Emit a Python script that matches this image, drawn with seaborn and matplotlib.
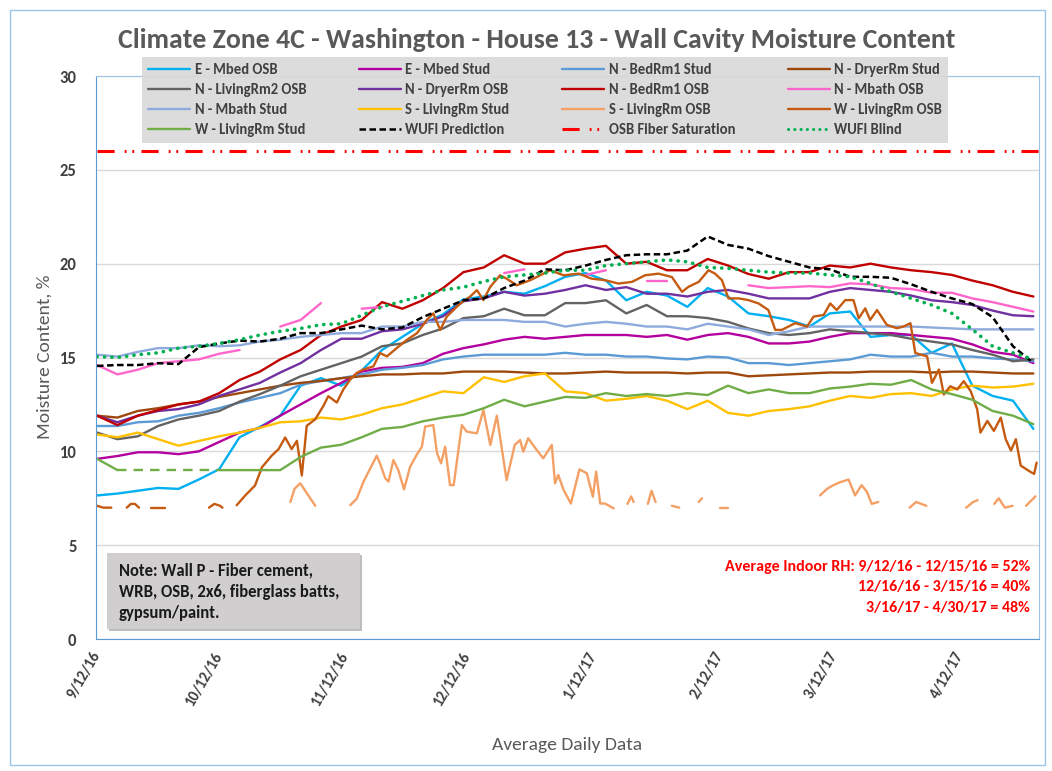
import numpy as np
import pandas as pd
import seaborn as sns
import matplotlib.pyplot as plt
from matplotlib.lines import Line2D
from matplotlib.patches import Rectangle
from matplotlib import font_manager

sns.set_style('white')
installed = {f.name for f in font_manager.fontManager.ttflist}
FONT = next(f for f in ['Carlito', 'Liberation Sans Narrow', 'Roboto Condensed', 'Liberation Sans']
            if f in installed)
plt.rcParams['font.family'] = [FONT, 'DejaVu Sans']

START = pd.Timestamp('2016-09-12')

# common 5-day grid (days since 9/12/16)
days = list(range(0, 231, 5))

e_mbed_osb = [7.65, 7.75, 7.9, 8.05, 8.0, 8.5, 9.05, 10.75, 11.3, 11.9, 13.5, 13.9,
              13.5, 14.3, 15.4, 16.1, 16.8, 17.3, 18.1, 18.25, 18.5, 18.4, 18.8, 19.3,
              19.5, 19.1, 18.05, 18.5, 18.3, 17.7, 18.7, 18.25, 17.35, 17.2, 17.0,
              16.65, 17.35, 17.45, 16.1, 16.2, 16.2, 15.25, 15.75, 13.5, 12.95, 12.7, 11.2]
e_mbed_stud = [9.6, 9.75, 9.95, 9.95, 9.85, 10.0, 10.5, 11.0, 11.25, 11.9, 12.5, 13.1,
               13.65, 14.25, 14.45, 14.5, 14.7, 15.2, 15.5, 15.7, 15.95, 16.1, 16.0, 16.1,
               16.2, 16.2, 16.2, 16.1, 16.2, 15.95, 16.2, 16.3, 16.1, 15.75, 15.75,
               15.85, 16.1, 16.3, 16.3, 16.3, 16.2, 16.1, 16.0, 15.7, 15.3, 15.15, 14.7]
n_bed1_stud = [11.35, 11.35, 11.55, 11.6, 11.9, 12.05, 12.3, 12.6, 12.85, 13.1, 13.55, 13.75,
               13.9, 14.1, 14.35, 14.45, 14.6, 14.9, 15.05, 15.15, 15.15, 15.15, 15.15, 15.25,
               15.15, 15.15, 15.05, 15.05, 14.95, 14.9, 15.05, 15.0, 14.7, 14.7, 14.6,
               14.7, 14.8, 14.9, 15.15, 15.05, 15.05, 15.25, 15.05, 15.05, 14.95, 14.9, 14.8]
n_dryer_stud = [11.9, 11.8, 12.15, 12.3, 12.5, 12.65, 12.9, 13.1, 13.3, 13.5, 13.65, 13.75,
                13.9, 14.0, 14.1, 14.1, 14.15, 14.15, 14.25, 14.25, 14.25, 14.2, 14.15, 14.15,
                14.2, 14.25, 14.2, 14.2, 14.2, 14.15, 14.2, 14.2, 14.0, 14.05, 14.1,
                14.15, 14.2, 14.2, 14.25, 14.25, 14.25, 14.2, 14.25, 14.25, 14.2, 14.15, 14.15]
n_living2_osb = [11.0, 10.65, 10.8, 11.35, 11.7, 11.9, 12.15, 12.65, 13.05, 13.5, 14.0, 14.35,
                 14.7, 15.05, 15.6, 15.75, 16.2, 16.55, 17.1, 17.2, 17.6, 17.25, 17.25, 17.9,
                 17.9, 18.05, 17.35, 17.8, 17.2, 17.2, 17.1, 16.9, 16.55, 16.3, 16.2,
                 16.3, 16.5, 16.4, 16.3, 16.2, 16.0, 15.85, 15.7, 15.4, 15.15, 14.8, 14.9]
n_dryer_osb = [11.9, 11.55, 11.9, 12.15, 12.25, 12.5, 12.95, 13.3, 13.65, 14.2, 14.7, 15.4,
               16.0, 16.0, 16.4, 16.5, 16.8, 17.2, 18.0, 18.15, 18.5, 18.3, 18.4, 18.6,
               18.85, 18.6, 18.75, 18.4, 18.4, 18.25, 18.5, 18.6, 18.4, 18.15, 18.15,
               18.15, 18.5, 18.7, 18.6, 18.5, 18.3, 18.05, 17.95, 17.8, 17.5, 17.25, 17.2]
n_bed1_osb = [11.9, 11.4, 11.9, 12.2, 12.5, 12.65, 13.1, 13.8, 14.25, 14.9, 15.4, 16.2,
              16.65, 17.0, 17.95, 17.6, 18.05, 18.7, 19.55, 19.8, 20.45, 20.0, 20.0, 20.6,
              20.8, 20.95, 20.0, 20.1, 19.65, 19.65, 20.25, 19.9, 19.45, 19.2, 19.55,
              19.55, 19.9, 19.8, 20.0, 19.8, 19.65, 19.55, 19.4, 19.1, 18.85, 18.5, 18.25]
n_mbath_osb = [14.6, 14.1, 14.35, 14.7, 14.8, 14.9, 15.2, 15.4, np.nan, 16.65, 17.0, 17.9,
               np.nan, 17.6, 17.7, np.nan, np.nan, np.nan, np.nan, np.nan, 19.5, 19.7, np.nan, np.nan,
               19.4, 19.65, np.nan, 19.1, 19.1, np.nan, 18.6, np.nan, 18.85, 18.7, 18.75,
               18.8, 18.75, 18.95, 18.9, 18.7, 18.65, 18.45, 18.45, 18.15, 17.95, 17.7, 17.45]
n_mbath_stud = [15.15, 15.05, 15.3, 15.5, 15.5, 15.65, 15.6, 15.65, 15.85, 15.95, 16.1, 16.2,
                16.3, 16.3, 16.65, 16.65, 16.9, 16.9, 17.0, 17.0, 17.0, 16.9, 16.9, 16.65,
                16.8, 16.9, 16.8, 16.65, 16.65, 16.5, 16.8, 16.65, 16.5, 16.2, 16.4,
                16.65, 16.65, 16.65, 16.65, 16.65, 16.65, 16.6, 16.55, 16.5, 16.5, 16.5, 16.5]
s_living_stud = [10.9, 10.75, 11.0, 10.65, 10.3, 10.55, 10.8, 11.0, 11.25, 11.55, 11.6, 11.8,
                 11.7, 11.95, 12.3, 12.5, 12.85, 13.2, 13.1, 13.95, 13.7, 14.0, 14.15, 13.2,
                 13.1, 12.7, 12.8, 12.95, 12.7, 12.25, 12.7, 12.05, 11.9, 12.15, 12.25,
                 12.4, 12.7, 12.95, 12.85, 13.05, 13.1, 12.95, 13.3, 13.5, 13.4, 13.45, 13.6]
w_living_stud = [9.6, 9.0, np.nan, np.nan, np.nan, np.nan, 9.0, 9.0, 9.0, 9.0, 9.7, 10.2,
                 10.35, 10.75, 11.2, 11.3, 11.6, 11.8, 11.95, 12.3, 12.75, 12.4, 12.65, 12.9,
                 12.85, 13.1, 12.95, 13.05, 12.95, 13.1, 13.0, 13.5, 13.1, 13.3, 13.1,
                 13.1, 13.35, 13.45, 13.6, 13.55, 13.8, 13.3, 13.05, 12.75, 12.15, 11.9, 11.45]
# stretch of the W - LivingRm Stud sensor sitting on its floor value
w_stud_floor_days = [5, 30]
w_stud_floor_vals = [9.0, 9.0]
wufi_prediction = [14.55, 14.6, 14.6, 14.7, 14.65, 15.55, 15.75, 15.9, 15.85, 16.0, 16.3, 16.3,
                   16.5, 16.7, 16.5, 16.6, 17.15, 17.6, 18.05, 18.15, 18.7, 19.1, 19.7, 19.65,
                   19.9, 20.2, 20.45, 20.5, 20.5, 20.7, 21.45, 21.0, 20.8, 20.4, 20.1,
                   19.8, 19.7, 19.3, 19.3, 19.25, 18.9, 18.5, 18.15, 17.85, 17.15, 15.6, 14.7]
wufi_blind = [15.05, 15.0, 15.15, 15.25, 15.5, 15.6, 15.75, 15.95, 16.2, 16.4, 16.55, 16.75,
              16.8, 17.25, 17.7, 18.0, 18.3, 18.6, 18.75, 19.05, 19.3, 19.4, 19.5, 19.65,
              19.65, 19.9, 20.0, 20.1, 20.2, 20.1, 19.8, 19.75, 19.65, 19.55, 19.5,
              19.5, 19.4, 19.3, 18.95, 18.5, 18.15, 17.8, 17.35, 16.5, 15.6, 15.25, 14.9]
osb_fiber_saturation = 26.0

# noisier sensors read at their own dates
s_osb_days = [47.5, 48.5, 49.9, 51.9, 53.6, 56,
              62.2, 63.8, 65.4, 68.7, 69.5, 70.8, 71.6, 72.8, 74.0, 75.4, 76.9, 78.5, 79.8, 80.6,
              82.6, 83.5, 84.5, 85.5, 86.7, 87.6, 89.6, 90.8, 93.3, 94.9, 96.6, 98.2, 100.6, 102.6,
              103.9, 104.7, 105.9, 108.0, 109.6, 111.7, 112.5, 113.3, 114.6, 116.4, 118.5, 120.3,
              121.8, 122.6, 123.6, 124.8, 126.9, 128,
              130.3, 131.2, 131.8, 133, 135.3, 136.2, 137.2, 139, 141.2, 143.0, 145, 147.8, 148.6, 150,
              153.0, 155.0, 160,
              177.6, 179.3, 180.9, 182.5, 184.6, 186.2, 187.8, 189.1, 190.3, 191.9, 194,
              199.6, 201.2, 203.7, 206, 213.5, 215.2, 216.3, 218, 220.4, 221.5, 223.0, 224.9, 226,
              228.2, 230.5]
s_osb_vals = [7.3, 8.0, 8.3, 7.65, 7.1, np.nan,
              7.13, 7.48, 8.36, 9.77, 9.36, 8.56, 8.39, 9.54, 9.0, 7.97, 9.18, 9.81, 10.25, 11.32,
              11.4, 9.9, 9.36, 10.25, 8.2, 8.2, 11.4, 11.05, 10.96, 12.2, 10.34, 11.9, 8.47, 10.34,
              10.6, 9.98, 10.7, 10.07, 9.63, 10.34, 8.3, 8.74, 7.94, 7.22, 9.04, 8.83,
              7.58, 8.92, 7.22, 7.22, 6.96, np.nan,
              7.2, 7.6, 7.3, np.nan, 7.2, 7.9, 7.3, np.nan, 7.1, 7.0, np.nan, 7.3, 7.5, np.nan,
              7.0, 7.0, np.nan,
              7.65, 8.0, 8.2, 8.35, 8.5, 7.65, 8.2, 7.85, 7.2, 7.3, np.nan,
              7.0, 7.3, 7.1, np.nan, 7.0, 7.3, 7.4, np.nan, 7.2, 7.5, 7.0, 7.1, np.nan,
              7.1, 7.6]

w_osb_days = [0, 1.5, 3.5, 5, 7.3, 8.3, 9.3, 10.3, 11.5, 13.2, 16.8, 20, 27.5, 28.8, 30.2, 30.8, 32,
              34.3, 36.4, 38.8, 40.5, 42.9, 44.6, 46.2, 47.8, 49.1, 50.3, 51.5, 53.6, 55.6, 56.8,
              58.9, 60.5, 62.2, 63.8, 65.4, 67.9, 69.5, 71.2, 73.6, 76.1, 78.6, 81.0, 82.6, 84.3,
              85.9, 89.2, 91.6, 93.3, 94.9, 96.6, 99.0, 100.6, 103.1, 106.4, 108.0, 111.3, 114.6,
              118.3, 121.5, 124.8, 128.1, 131.4, 134.6, 137.9, 141.2, 143.7, 145.3, 147.8, 150.2,
              151.8, 153.5, 155.1, 157.6, 160.0, 162.5, 164.9, 166.6, 168.2, 171.5,
              174.4, 176.0, 178.5, 180.1, 181.7, 183.8, 185.8, 187.1, 188.7, 189.9, 191.6, 194.0,
              196.5, 198.1, 199.8, 201.0, 203.9, 205.1, 206.8, 208.0, 209.6, 211.3, 212.9, 214.6,
              216.2, 217.0, 218.7, 220.3, 222.0, 223.2, 224.5, 225.7, 226.9, 229.4, 230.2, 230.8]
w_osb_vals = [7.1, 7.0, 7.0, np.nan, 7.0, 7.2, 7.2, 7.0, np.nan, 7.0, 7.0, np.nan, 7.0, 7.2, 7.1, 7.0, np.nan,
              7.13, 7.65, 8.18, 9.15, 9.77, 10.12, 10.74, 10.12, 10.56, 8.71, 11.36, 11.71, 12.42, 12.94,
              12.6, 13.3, 13.83, 14.18, 14.36, 14.53, 15.24, 15.06, 15.5, 15.94, 16.3, 17.0, 17.35, 16.47,
              17.18, 17.88, 18.24, 18.59, 18.06, 18.77, 19.38, 19.2, 18.85, 19.12, 19.29, 19.65, 19.38,
              19.47, 19.2, 19.12, 18.94, 19.03, 19.38, 19.47, 19.29, 18.5, 18.77, 19.03, 19.65,
              19.47, 19.12, 18.15, 18.15, 18.06, 17.88, 17.53, 16.47, 16.47, 16.83,
              16.65, 17.18, 17.27, 17.88, 17.53, 18.06, 18.06, 17.09, 17.62, 17.0, 17.53, 16.74,
              16.56, 16.65, 16.83, 15.24, 15.06, 13.65, 14.36, 13.03, 13.47, 13.3, 13.74, 13.21,
              12.24, 11.0, 11.62, 11.09, 11.8, 10.65, 10.04, 10.65, 9.24, 8.89, 8.8, 9.4]

tick_labels = ['9/12/16', '10/12/16', '11/12/16', '12/12/16', '1/12/17', '2/12/17', '3/12/17', '4/12/17']
note_lines = ['Note: Wall P - Fiber cement,', 'WRB, OSB, 2x6, fiberglass batts,', 'gypsum/paint.']
rh_lines = ['Average Indoor RH: 9/12/16 - 12/15/16 = 52%', '12/16/16 - 3/15/16 = 40%',
            '3/16/17 - 4/30/17 = 48%']

SOLID = '-'
DASH = (0, (2.6, 1.4))
DOT = (0, (0.05, 2.0))
SAT = (0, (5.6, 3.3, 0.6, 1.9, 0.6, 2.4))

# label, days, values, color, linewidth, linestyle  (legend order, row by row)
series = [
    ('E - Mbed OSB', days, e_mbed_osb, '#00B0F0', 1.7, SOLID),
    ('E - Mbed Stud', days, e_mbed_stud, '#B4009E', 1.7, SOLID),
    ('N - BedRm1 Stud', days, n_bed1_stud, '#5B9BD5', 1.7, SOLID),
    ('N - DryerRm Stud', days, n_dryer_stud, '#9E480E', 1.7, SOLID),
    ('N - LivingRm2 OSB', days, n_living2_osb, '#636363', 1.7, SOLID),
    ('N - DryerRm OSB', days, n_dryer_osb, '#7030A0', 1.7, SOLID),
    ('N - BedRm1 OSB', days, n_bed1_osb, '#C00000', 1.7, SOLID),
    ('N - Mbath OSB', days, n_mbath_osb, '#FF66CC', 1.7, SOLID),
    ('N - Mbath Stud', days, n_mbath_stud, '#8FAADC', 1.7, SOLID),
    ('S - LivingRm Stud', days, s_living_stud, '#FFC000', 1.7, SOLID),
    ('S - LivingRm OSB', s_osb_days, s_osb_vals, '#F4A065', 1.7, SOLID),
    ('W - LivingRm OSB', w_osb_days, w_osb_vals, '#C55A11', 1.7, SOLID),
    ('W - LivingRm Stud', days, w_living_stud, '#70AD47', 1.7, SOLID),
    ('WUFI Prediction', days, wufi_prediction, '#000000', 1.8, DASH),
    ('OSB Fiber Saturation', [0, 231.4], [osb_fiber_saturation] * 2, '#FF0000', 2.2, SAT),
    ('WUFI Blind', days, wufi_blind, '#00B050', 2.6, DOT),
]


def to_dates(d):
    return START + pd.to_timedelta(np.asarray(d, float), unit='D')


def draw(ax, d, v, color, lw, ls):
    d = np.asarray(d, float)
    v = np.asarray(v, float)
    idx = np.flatnonzero(~np.isnan(v))
    for run in np.split(idx, np.flatnonzero(np.diff(idx) > 1) + 1):
        if len(run) < 2:
            continue
        sns.lineplot(x=to_dates(d[run]), y=v[run], ax=ax, color=color, linewidth=lw,
                     linestyle=ls, estimator=None, sort=False, legend=False,
                     dash_capstyle='round' if ls == DOT else 'butt')


fig = plt.figure(figsize=(10.52, 7.71), dpi=100)
ax = fig.add_axes([0.0913, 0.1712, 0.8964, 0.7302])

for label, d, v, color, lw, ls in series:
    draw(ax, d, v, color, lw, ls)
    if label == 'W - LivingRm Stud':
        draw(ax, w_stud_floor_days, w_stud_floor_vals, color, lw, (0, (4, 3)))

ax.set_ylim(0, 30)
ax.set_xlim(to_dates([-0.25])[0], to_dates([231.4])[0])
ax.set_yticks(range(0, 31, 5))
ax.set_xticks(pd.to_datetime(tick_labels, format='%m/%d/%y'))
ax.set_xticklabels(tick_labels, rotation=60, ha='right', va='center', rotation_mode='anchor',
                   fontsize=11, fontweight='bold', color='#404040')
for t in ax.get_yticklabels():
    t.set_fontsize(12)
    t.set_fontweight('bold')
    t.set_color('#404040')
ax.tick_params(axis='y', length=0, pad=14)
ax.tick_params(axis='x', length=6, width=1, color='#5B9BD5', direction='out', pad=4)
ax.set_xlabel('')
ax.set_ylabel('')
ax.yaxis.grid(True, color='#D9D9D9', linewidth=1)
ax.set_axisbelow(True)
for side in ['left', 'bottom']:
    ax.spines[side].set_color('#5B9BD5')
for side in ['top', 'right']:
    ax.spines[side].set_color('#9DC3E6')

handles = [Line2D([], [], color=c, linewidth=min(lw, 2.2), linestyle=ls,
                  dash_capstyle='round' if ls == DOT else 'butt')
           for _, _, _, c, lw, ls in series]
labels = [s[0] for s in series]
order = [i for c in range(4) for i in range(c, 16, 4)]
leg = ax.legend([handles[i] for i in order], [labels[i] for i in order], ncol=4,
                loc='upper center', bbox_to_anchor=(545 / 1052, 1 - 50 / 771),
                bbox_transform=fig.transFigure, frameon=True, fancybox=False,
                prop={'size': 10.5, 'weight': 'bold'}, handlelength=2.9, handletextpad=0.3,
                columnspacing=3.6, labelspacing=0.42, borderpad=0.4)
leg.get_frame().set_facecolor('#D9D9D9')
leg.get_frame().set_edgecolor('none')
leg.get_frame().set_alpha(0.92)
for t in leg.get_texts():
    t.set_color('#404040')

fig.text(537 / 1052, 1 - 40 / 771, 'Climate Zone 4C - Washington - House 13 - Wall Cavity Moisture Content',
         ha='center', va='center', fontsize=20, fontweight='bold', color='#595959')
fig.text(45 / 1052, 1 - 357 / 771, 'Moisture Content, %', rotation=90, ha='center', va='center',
         fontsize=14, color='#595959')
fig.text(567 / 1052, 1 - 745 / 771, 'Average Daily Data', ha='center', va='center',
         fontsize=14, color='#595959')

fig.patches.append(Rectangle((109 / 1052, 1 - 631 / 771), 253 / 1052, 76 / 771,
                             transform=fig.transFigure, fc='#BDBDBD', ec='none', zorder=5))
fig.patches.append(Rectangle((107 / 1052, 1 - 629 / 771), 253 / 1052, 76 / 771,
                             transform=fig.transFigure, fc='#D0CECE', ec='none', zorder=6))
for i, line in enumerate(note_lines):
    fig.text(119 / 1052, 1 - (570 + 21.5 * i) / 771, line, ha='left', va='center',
             fontsize=12, fontweight='bold', color='#1A1A1A', zorder=7)
for i, line in enumerate(rh_lines):
    fig.text(1030 / 1052, 1 - (567 + 20.5 * i) / 771, line, ha='right', va='center',
             fontsize=11.5, fontweight='bold', color='#FF0000')

fig.patches.append(Rectangle((10 / 1052, 1 - 765 / 771), 1035 / 1052, 755 / 771,
                             transform=fig.transFigure, fill=False, ec='#9DC3E6', lw=1))

fig.savefig('out.png', dpi=100)
